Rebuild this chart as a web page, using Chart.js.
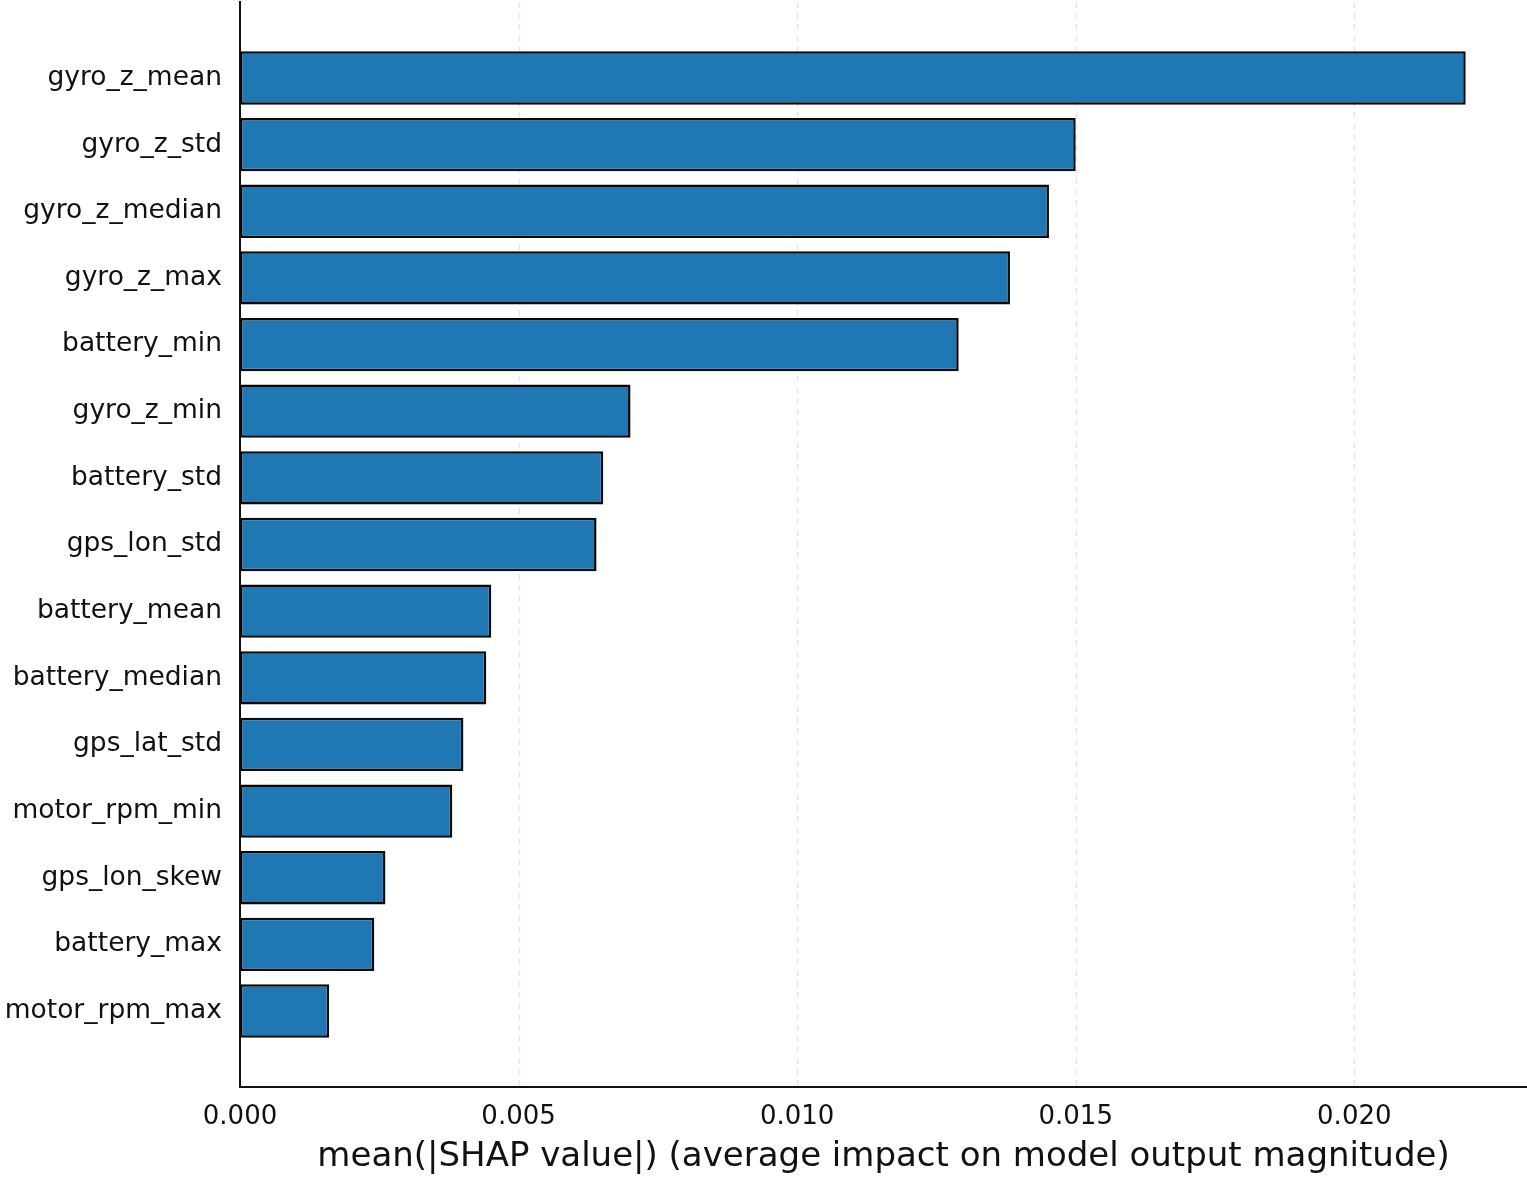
<!DOCTYPE html>
<html>
<head>
<meta charset="utf-8">
<script src="https://cdn.jsdelivr.net/npm/chart.js@4"></script>
<style>
  html, body { margin: 0; padding: 0; background: #fff; }
  #wrap { width: 1527px; height: 1178px; }
</style>
</head>
<body>
<div id="wrap"><canvas id="shap"></canvas></div>
<script>
// feature names, top to bottom
var features = ['gyro_z_mean', 'gyro_z_std', 'gyro_z_median', 'gyro_z_max', 'battery_min',
                'gyro_z_min', 'battery_std', 'gps_lon_std', 'battery_mean', 'battery_median',
                'gps_lat_std', 'motor_rpm_min', 'gps_lon_skew', 'battery_max', 'motor_rpm_max'];

// mean(|SHAP value|) per feature
var shapValues = [0.0220, 0.0150, 0.01452, 0.01382, 0.01290,
                  0.00701, 0.00652, 0.00640, 0.00451, 0.00442,
                  0.00401, 0.00381, 0.00261, 0.00241, 0.00160];

var xTicks = [0, 0.005, 0.010, 0.015, 0.020];

var points = [];
for (var i = 0; i < features.length; i++) {
	points.push({ x: shapValues[i], y: i });
}

Chart.defaults.font.family = '"DejaVu Sans", sans-serif';
Chart.defaults.color = '#111';

var ctx = document.getElementById('shap');
var chart = new Chart(ctx, {
	type: 'bar',
	data: {
		datasets: [{
			data: points,
			backgroundColor: '#1f77b4',
			borderColor: '#0a0a0a',
			borderWidth: 2.5,
			borderSkipped: false,
			categoryPercentage: 0.8,
			barPercentage: 1
		}]
	},
	options: {
		indexAxis: 'y',
		responsive: true,
		maintainAspectRatio: false,
		animation: false,
		layout: { padding: { top: 2, right: 0, left: 0, bottom: 0 } },
		plugins: { legend: { display: false }, tooltip: { enabled: false } },
		scales: {
			x: {
				type: 'linear',
				min: 0,
				max: 0.0231,
				afterFit: function (s) { s.height = 91; s.paddingLeft = 0; s.paddingRight = 0; },
				afterBuildTicks: function (s) {
					s.ticks = xTicks.map(function (v) { return { value: v }; });
				},
				ticks: {
					padding: 15,
					font: { size: 26 },
					callback: function (v) { return Number(v).toFixed(3); }
				},
				grid: { display: false, drawTicks: false },
				border: { display: true, color: '#111', width: 2 },
				title: {
					display: true,
					text: 'mean(|SHAP value|) (average impact on model output magnitude)',
					font: { size: 34 },
					padding: { top: 0, bottom: 0 }
				}
			},
			y: {
				type: 'linear',
				reverse: true,
				offset: false,
				min: -1.14,
				max: features.length - 1 + 1.14,
				afterFit: function (s) { s.width = 240; s.paddingTop = 0; s.paddingBottom = 0; },
				afterBuildTicks: function (s) {
					s.ticks = features.map(function (f, i) { return { value: i }; });
				},
				ticks: {
					padding: 18,
					font: { size: 26.5 },
					callback: function (v) { return features[v]; }
				},
				grid: { display: false, drawTicks: false },
				border: { display: true, color: '#111', width: 2 }
			}
		}
	},
	plugins: [{
		// dashed vertical grid lines like the original
		id: 'dashGrid',
		beforeDatasetsDraw: function (c) {
			var xs = c.scales.x, area = c.chartArea, g = c.ctx;
			g.save();
			g.strokeStyle = '#e6e6e6';
			g.lineWidth = 1.5;
			g.setLineDash([6, 5]);
			xTicks.forEach(function (v) {
				if (v === 0) return;
				var px = Math.round(xs.getPixelForValue(v)) + 0.5;
				g.beginPath();
				g.moveTo(px, area.top);
				g.lineTo(px, area.bottom);
				g.stroke();
			});
			g.restore();
		}
	}]
});
</script>
</body>
</html>
